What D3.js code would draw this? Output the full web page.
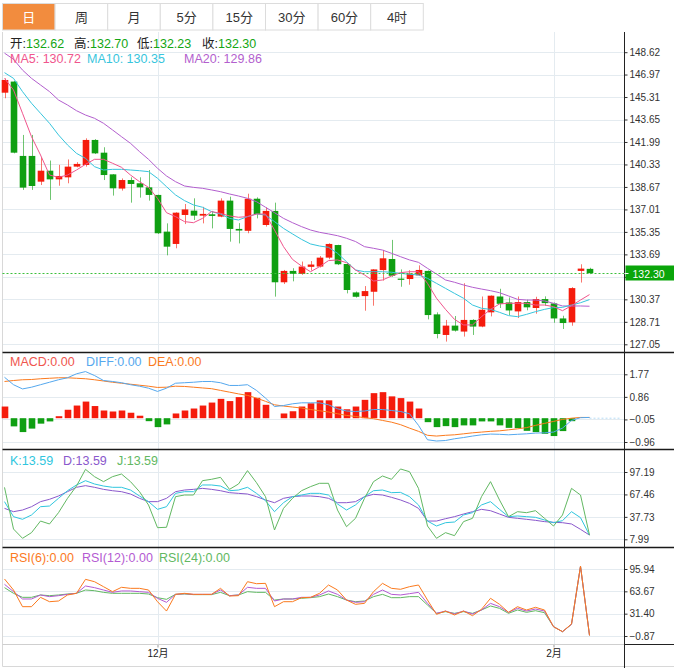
<!DOCTYPE html>
<html>
<head>
<meta charset="utf-8">
<script src="https://cdn.jsdelivr.net/npm/d3@7/dist/d3.min.js"></script>
<style>
    body { margin: 0; background: #fff; }
    svg text { font-family: "Liberation Sans", "Noto Sans CJK SC", sans-serif; }
</style>
</head>
<body>
<svg id="canvas" width="674" height="668"></svg>
<script>
// ---- data ----
const tabs = ["日", "周", "月", "5分", "15分", "30分", "60分", "4时"];

const opens = [145.63, 146.45, 140.96, 140.96, 139.06, 139.87, 139.23, 139.38, 140.17, 140.29,
    142.14, 141.20, 139.60, 138.55, 139.18, 138.94, 138.64, 138.08, 135.37, 134.46,
    136.60, 136.92, 136.55, 136.65, 136.48, 137.66, 135.57, 135.43, 137.80, 135.86,
    136.90, 131.63, 132.47, 132.25, 132.77, 132.79, 133.45, 134.38, 132.98, 130.88,
    130.61, 130.93, 132.53, 133.35, 131.90, 131.87, 132.14, 132.47, 129.26, 127.74,
    128.43, 127.99, 128.85, 128.36, 129.41, 130.58, 130.14, 129.48, 130.17, 129.73,
    130.39, 130.07, 128.96, 128.67, 132.47, 132.62];
const highs = [146.69, 146.50, 142.51, 142.51, 140.86, 140.62, 140.30, 140.70, 140.50, 142.26,
    142.20, 141.60, 139.62, 139.30, 139.38, 139.38, 139.92, 138.10, 135.98, 136.80,
    137.41, 137.83, 137.20, 136.90, 137.83, 137.95, 136.00, 138.17, 137.90, 137.17,
    137.51, 132.54, 132.67, 133.16, 133.20, 133.57, 134.51, 134.40, 133.00, 130.95,
    131.35, 132.60, 134.02, 134.76, 132.58, 132.52, 132.88, 132.50, 129.41, 128.85,
    129.14, 131.56, 128.90, 130.58, 130.66, 131.15, 130.51, 130.58, 130.34, 130.56,
    130.59, 130.14, 129.16, 131.27, 132.96, 132.70];
const lows = [145.22, 141.15, 138.45, 138.45, 138.81, 137.71, 138.76, 138.94, 140.12, 140.17,
    141.10, 139.18, 138.03, 138.40, 137.51, 137.88, 137.66, 135.20, 133.62, 134.14,
    135.93, 136.23, 135.98, 135.61, 136.43, 134.63, 134.50, 135.25, 136.35, 135.74,
    130.57, 131.50, 131.70, 132.18, 132.50, 132.72, 133.33, 132.90, 130.81, 130.50,
    129.53, 129.90, 131.75, 132.03, 131.30, 131.45, 132.09, 128.89, 127.49, 127.25,
    127.99, 127.62, 127.74, 128.31, 129.11, 129.73, 129.21, 128.99, 129.56, 129.31,
    129.90, 128.64, 128.18, 128.42, 131.61, 132.23];
const closes = [146.57, 141.20, 138.62, 138.74, 139.87, 139.23, 139.48, 140.17, 140.37, 142.14,
    141.15, 139.55, 138.57, 139.18, 138.89, 138.64, 138.08, 135.25, 134.26, 136.77,
    137.01, 136.55, 136.68, 136.53, 137.66, 135.57, 135.45, 137.80, 136.67, 136.90,
    131.63, 132.47, 132.25, 132.79, 132.94, 133.45, 134.46, 132.96, 131.06, 130.56,
    130.98, 132.58, 133.40, 132.11, 131.82, 132.27, 132.54, 129.21, 127.81, 128.43,
    128.06, 128.85, 128.36, 129.60, 130.64, 130.04, 129.55, 130.17, 129.78, 130.39,
    130.09, 128.96, 128.62, 131.20, 132.64, 132.30];

const ma5 = [146.69, 145.83, 144.11, 142.38, 141.03, 139.55, 139.38, 139.55, 139.92, 140.34,
    140.71, 140.71, 140.42, 140.12, 139.55, 139.06, 138.64, 137.83, 136.77, 136.48,
    136.11, 136.03, 136.35, 136.85, 136.72, 136.53, 136.43, 136.48, 136.67, 136.67,
    135.49, 134.26, 133.32, 132.83, 132.41, 132.78, 133.23, 133.28, 133.08, 132.54,
    132.17, 131.72, 131.80, 132.09, 132.34, 132.41, 132.41, 131.55, 130.45, 129.63,
    128.89, 128.48, 128.48, 129.09, 129.63, 130.03, 130.08, 130.08, 130.08, 129.95,
    129.95, 129.83, 129.53, 129.90, 130.32, 130.72];
const ma10 = [147.11, 146.69, 145.71, 144.85, 144.11, 143.37, 142.51, 141.77, 141.15, 140.78,
    140.17, 139.92, 139.97, 139.97, 139.92, 139.87, 139.80, 139.31, 138.69, 138.08,
    137.66, 137.34, 137.17, 136.85, 136.67, 136.35, 136.23, 136.48, 136.67, 136.60,
    136.11, 135.61, 135.20, 134.80, 134.46, 134.31, 134.21, 133.77, 133.15, 132.54,
    132.41, 132.41, 132.41, 132.37, 132.29, 132.22, 132.17, 131.92, 131.55, 131.18,
    130.81, 130.45, 129.95, 129.71, 129.63, 129.41, 129.17, 129.09, 129.26, 129.46,
    129.63, 129.76, 129.78, 129.95, 130.12, 130.35];
const ma20 = [148.55, 148.10, 147.30, 146.69, 146.20, 145.71, 145.09, 144.72, 144.30, 143.98,
    143.74, 143.37, 142.88, 142.38, 141.89, 141.28, 140.71, 140.05, 139.48, 139.06,
    138.74, 138.64, 138.57, 138.45, 138.32, 138.15, 138.00, 137.83, 137.58, 137.17,
    136.77, 136.35, 136.03, 135.74, 135.49, 135.32, 135.20, 135.07, 134.88, 134.64,
    134.26, 134.14, 134.01, 133.77, 133.52, 133.28, 133.10, 132.66, 132.24, 131.80,
    131.63, 131.43, 131.26, 131.13, 131.01, 130.86, 130.62, 130.37, 130.32, 130.32,
    130.25, 130.08, 129.88, 129.88, 129.88, 129.86];

const macdBars = [0.47, -0.33, -0.56, -0.42, -0.22, -0.13, 0.08, 0.34, 0.51, 0.67,
    0.49, 0.31, 0.27, 0.31, 0.22, 0.10, -0.12, -0.36, -0.25, 0.19,
    0.31, 0.39, 0.51, 0.63, 0.78, 0.69, 0.85, 1.05, 0.82, 0.54,
    0.00, 0.19, 0.28, 0.47, 0.60, 0.72, 0.72, 0.47, 0.36, 0.47,
    0.74, 1.01, 1.05, 0.88, 0.81, 0.67, 0.39, -0.16, -0.36, -0.32,
    -0.36, -0.29, -0.29, -0.13, -0.13, -0.29, -0.39, -0.40, -0.51, -0.56,
    -0.63, -0.72, -0.52, -0.12, 0.00, 0.00];
const diff = [1.65, 1.35, 1.18, 1.25, 1.35, 1.45, 1.55, 1.63, 1.79, 1.88,
    1.72, 1.52, 1.48, 1.43, 1.35, 1.29, 1.21, 1.08, 1.21, 1.41,
    1.43, 1.45, 1.48, 1.48, 1.43, 1.32, 1.32, 1.35, 1.12, 0.81,
    0.47, 0.51, 0.58, 0.62, 0.62, 0.62, 0.54, 0.38, 0.29, 0.27,
    0.29, 0.35, 0.35, 0.31, 0.27, 0.18, -0.29, -0.87, -0.92, -0.90,
    -0.83, -0.78, -0.72, -0.67, -0.64, -0.65, -0.67, -0.65, -0.63, -0.60,
    -0.59, -0.56, -0.40, -0.09, 0.02, 0.03];
const dea = [1.48, 1.52, 1.55, 1.56, 1.59, 1.61, 1.63, 1.63, 1.61, 1.59,
    1.55, 1.50, 1.45, 1.41, 1.37, 1.33, 1.29, 1.24, 1.25, 1.29,
    1.28, 1.25, 1.22, 1.19, 1.12, 1.05, 0.98, 0.92, 0.81, 0.68,
    0.54, 0.49, 0.45, 0.41, 0.35, 0.30, 0.25, 0.18, 0.11, 0.07,
    0.02, -0.02, -0.09, -0.16, -0.26, -0.40, -0.53, -0.69, -0.72, -0.69,
    -0.67, -0.63, -0.59, -0.56, -0.53, -0.51, -0.47, -0.43, -0.38, -0.29,
    -0.21, -0.13, -0.05, 0.00, 0.03, 0.03];

const kVals = [57.9, 38.0, 34.5, 40.2, 51.2, 52.1, 62.3, 72.4, 80.0, 85.7,
    81.3, 78.6, 76.9, 76.9, 73.3, 65.4, 57.9, 47.7, 51.2, 68.9,
    71.1, 71.1, 80.0, 80.0, 78.6, 72.4, 73.3, 76.9, 68.9, 59.2,
    44.6, 56.5, 64.5, 66.7, 68.9, 68.9, 66.7, 54.8, 46.8, 53.5,
    64.5, 72.4, 73.3, 69.8, 70.2, 64.5, 53.5, 32.2, 25.6, 30.0,
    30.9, 40.2, 43.3, 53.5, 57.9, 47.7, 38.0, 38.9, 38.0, 37.1,
    33.6, 30.0, 32.7, 44.6, 36.7, 13.59];
const dVals = [49.0, 44.6, 46.8, 51.2, 57.9, 61.0, 65.4, 71.1, 76.9, 79.1,
    76.9, 74.2, 72.4, 71.1, 68.0, 62.3, 57.9, 57.9, 62.3, 71.1,
    73.3, 74.2, 75.5, 74.2, 72.4, 69.8, 68.9, 68.0, 64.5, 60.1,
    56.5, 62.3, 64.5, 65.4, 65.4, 64.5, 62.3, 56.5, 56.5, 57.9,
    64.5, 67.6, 66.7, 63.6, 60.1, 55.6, 49.0, 32.2, 32.2, 35.3,
    38.0, 41.5, 44.6, 47.7, 45.9, 41.5, 37.1, 35.8, 34.5, 33.1,
    31.4, 30.5, 30.0, 28.3, 21.2, 13.59];
const jVals = [76.8, 21.6, 9.3, 16.8, 32.2, 28.3, 43.3, 62.3, 78.6, 100.7,
    91.0, 84.4, 91.0, 94.5, 84.4, 71.1, 53.5, 23.4, 23.9, 64.5,
    66.7, 66.7, 85.7, 87.5, 90.1, 74.2, 81.3, 99.0, 83.0, 64.5,
    20.3, 49.0, 62.3, 72.4, 77.8, 82.2, 82.2, 46.8, 24.7, 35.8,
    62.3, 84.4, 91.9, 87.5, 101.2, 97.6, 75.5, 25.6, 9.3, 16.8,
    12.8, 31.4, 35.8, 64.5, 84.4, 60.1, 38.0, 44.6, 43.3, 45.9,
    35.8, 25.6, 40.2, 75.5, 66.7, 13.59];

const rsi6 = [81.5, 65.6, 41.5, 41.5, 55.0, 48.7, 49.7, 58.4, 60.8, 81.0,
    77.6, 70.4, 63.2, 69.5, 68.0, 68.0, 65.6, 48.7, 35.2, 59.3,
    60.8, 59.3, 59.3, 59.3, 68.0, 56.9, 57.4, 77.6, 74.7, 75.2,
    41.5, 48.7, 48.7, 54.5, 55.0, 60.8, 72.8, 65.6, 51.1, 44.9,
    46.3, 63.2, 75.2, 68.0, 66.6, 70.4, 72.8, 51.1, 30.4, 35.2,
    29.5, 35.2, 28.5, 37.7, 53.6, 44.9, 33.3, 41.5, 36.7, 40.6,
    36.7, 12.6, 5.4, 16.5, 100, 0];
const rsi12 = [73.8, 63.2, 52.6, 52.6, 58.4, 56.0, 57.4, 59.3, 60.8, 71.4,
    69.0, 65.6, 62.2, 64.2, 64.2, 63.2, 62.2, 53.6, 47.8, 59.3,
    60.3, 59.3, 59.3, 59.3, 65.6, 57.4, 58.4, 69.5, 68.0, 68.0,
    49.7, 52.6, 52.6, 55.0, 55.0, 58.4, 64.2, 59.3, 51.1, 47.8,
    48.7, 59.3, 65.6, 59.3, 58.4, 60.3, 62.2, 46.3, 31.9, 35.2,
    30.9, 35.2, 30.9, 36.7, 46.3, 41.5, 33.3, 39.1, 35.2, 38.1,
    35.2, 12.6, 5.4, 16.0, 100, 0];
const rsi24 = [69.0, 60.8, 55.0, 55.0, 58.4, 57.4, 58.4, 59.8, 60.8, 65.6,
    64.6, 62.2, 60.8, 60.8, 60.8, 60.8, 59.8, 54.5, 52.1, 59.3,
    59.8, 58.9, 58.9, 58.9, 62.2, 57.4, 58.4, 63.2, 62.2, 62.2,
    51.1, 52.6, 52.6, 53.6, 54.5, 56.0, 59.8, 56.0, 51.1, 48.7,
    49.7, 56.0, 59.3, 54.5, 54.5, 56.0, 56.0, 43.9, 31.9, 34.3,
    31.9, 34.3, 31.9, 36.7, 42.5, 39.1, 31.9, 36.7, 33.3, 35.7,
    32.8, 12.6, 5.4, 16.0, 100, 0];

const priceTicks = [127.05, 128.71, 130.37, 132.03, 133.69, 135.35, 137.01, 138.67,
    140.33, 141.99, 143.65, 145.31, 146.97, 148.62];
const macdTicks = [1.77, 0.86, -0.05, -0.96];
const kdjTicks = [97.19, 67.46, 37.73, 7.99];
const rsiTicks = [95.94, 63.67, 31.40, -0.87];
const monthTicks = [17, 61];
const monthNames = ["12月", "2月"];
const lastClose = 132.30;

// ---- layout ----
const LEFT = 2.5, AXIS_X = 624.5, RIGHT = 674;
const PANE_TOP = 32, X_AXIS_Y = 644.5, BOTTOM = 666.5;
const SEPARATORS = [352.5, 449.5, 547.5];
const RED = "#f51b0c", GREEN = "#0f9f12";
const GRID = "#e4ebf0";

const svg = d3.select("#canvas");
const x = d3.scaleLinear().domain([0, 65]).range([4.5, 589.5]);
const yPrice = d3.scaleLinear().domain([127.05, 148.62]).range([344.3, 52.2]);
const yMacd = d3.scaleLinear().domain([-0.96, 1.77]).range([442, 374.3]);
const yKdj = d3.scaleLinear().domain([7.99, 97.19]).range([539.3, 472]);
const yRsi = d3.scaleLinear().domain([-0.87, 95.94]).range([636, 569]);

const panes = [
    {scale: yPrice, ticks: priceTicks, hide: [132.03]},
    {scale: yMacd, ticks: macdTicks, hide: []},
    {scale: yKdj, ticks: kdjTicks, hide: []},
    {scale: yRsi, ticks: rsiTicks, hide: []}
];

/**
 * Tab strip across the top.
 */
function drawTabs() {
    const w = 52.6, x0 = 2;
    const g = svg.append("g");
    g.selectAll("rect")
        .data(tabs)
        .enter()
        .append("rect")
        .attr("x", (d, i) => x0 + i * w + 0.5)
        .attr("y", 3.5)
        .attr("width", w)
        .attr("height", 26.5)
        .attr("fill", (d, i) => i === 0 ? "#f28c3e" : "#fff")
        .attr("stroke", "#dcdcdc");
    g.selectAll("text")
        .data(tabs)
        .enter()
        .append("text")
        .attr("x", (d, i) => x0 + i * w + w / 2 + 0.5)
        .attr("y", 21.5)
        .attr("text-anchor", "middle")
        .attr("font-size", "13px")
        .attr("fill", (d, i) => i === 0 ? "#fff" : "#333")
        .text(d => d);
}

/**
 * Grid lines, pane frames and axes.
 */
function drawFrame() {
    panes.forEach(p => {
        svg.append("g").selectAll("line")
            .data(p.ticks)
            .enter()
            .append("line")
            .attr("x1", LEFT).attr("x2", AXIS_X)
            .attr("y1", d => Math.round(p.scale(d)) + 0.5)
            .attr("y2", d => Math.round(p.scale(d)) + 0.5)
            .attr("stroke", GRID);

        const axis = svg.append("g")
            .attr("transform", "translate(" + AXIS_X + ",0)")
            .call(d3.axisRight(p.scale)
                .tickValues(p.ticks)
                .tickSize(3)
                .tickPadding(2)
                .tickFormat(d => p.hide.includes(d) ? "" : d3.format(".2f")(d)));
        axis.select(".domain").remove();
        axis.selectAll("line").attr("stroke", "#333");
        axis.selectAll("text")
            .attr("font-size", "10px")
            .attr("fill", "#333")
            .style("font-family", "'Liberation Sans', sans-serif");
    });

    svg.append("g").selectAll("line")
        .data(monthTicks)
        .enter()
        .append("line")
        .attr("x1", d => Math.round(x(d)) + 0.5).attr("x2", d => Math.round(x(d)) + 0.5)
        .attr("y1", PANE_TOP).attr("y2", X_AXIS_Y)
        .attr("stroke", GRID);

    const xAxis = svg.append("g")
        .attr("transform", "translate(0," + X_AXIS_Y + ")")
        .call(d3.axisBottom(x)
            .tickValues(monthTicks)
            .tickSize(3)
            .tickPadding(2)
            .tickFormat((d, i) => monthNames[i]));
    xAxis.select(".domain").remove();
    xAxis.selectAll("line").attr("stroke", "#999");
    xAxis.selectAll("text").attr("font-size", "10px").attr("fill", "#222");

    // borders
    svg.append("line").attr("x1", LEFT).attr("x2", LEFT).attr("y1", PANE_TOP).attr("y2", BOTTOM)
        .attr("stroke", "#d8d8d8");
    svg.append("line").attr("x1", LEFT).attr("x2", RIGHT).attr("y1", BOTTOM).attr("y2", BOTTOM)
        .attr("stroke", "#d8d8d8");
    svg.append("line").attr("x1", LEFT).attr("x2", AXIS_X).attr("y1", X_AXIS_Y).attr("y2", X_AXIS_Y)
        .attr("stroke", "#cfcfcf");
    svg.append("line").attr("x1", AXIS_X).attr("x2", RIGHT).attr("y1", X_AXIS_Y).attr("y2", X_AXIS_Y)
        .attr("stroke", "#222");
    SEPARATORS.forEach(y => {
        svg.append("line").attr("x1", LEFT).attr("x2", RIGHT).attr("y1", y).attr("y2", y)
            .attr("stroke", "#1a1a1a").attr("stroke-width", 1.3);
    });
    svg.append("line").attr("x1", AXIS_X).attr("x2", AXIS_X).attr("y1", PANE_TOP).attr("y2", 668)
        .attr("stroke", "#222");
}

/**
 * Candlesticks and moving averages.
 */
function drawPrice() {
    const idx = d3.range(closes.length);
    const color = i => closes[i] >= opens[i] ? RED : GREEN;
    const bw = 6.6;

    svg.append("g").selectAll("line")
        .data(idx)
        .enter()
        .append("line")
        .attr("x1", i => Math.round(x(i)) + 0.5)
        .attr("x2", i => Math.round(x(i)) + 0.5)
        .attr("y1", i => yPrice(highs[i]))
        .attr("y2", i => yPrice(lows[i]))
        .attr("stroke", color)
        .attr("stroke-opacity", 0.6);

    svg.append("g").selectAll("rect")
        .data(idx)
        .enter()
        .append("rect")
        .attr("x", i => x(i) - bw / 2 + 0.5)
        .attr("width", bw)
        .attr("y", i => yPrice(Math.max(opens[i], closes[i])))
        .attr("height", i => Math.max(1.2, Math.abs(yPrice(opens[i]) - yPrice(closes[i]))))
        .attr("fill", color);

    const line = d3.line().x((d, i) => x(i)).y(d => yPrice(d));
    [[ma20, "#b35fce"], [ma10, "#37c5dd"], [ma5, "#f0558d"]].forEach(([s, c]) => {
        svg.append("path").datum(s).attr("d", line)
            .attr("fill", "none").attr("stroke", c).attr("stroke-width", 1);
    });

    // last price marker
    const yl = Math.round(yPrice(lastClose)) + 0.5;
    svg.append("line").attr("x1", LEFT).attr("x2", AXIS_X).attr("y1", yl).attr("y2", yl)
        .attr("stroke", "#3cc03c").attr("stroke-dasharray", "2,2");
    svg.append("rect").attr("x", AXIS_X + 1).attr("y", yl - 8).attr("width", RIGHT - AXIS_X)
        .attr("height", 15).attr("fill", "#0aa50a");
    svg.append("line").attr("x1", AXIS_X).attr("x2", AXIS_X + 4).attr("y1", yl).attr("y2", yl)
        .attr("stroke", "#fff");
    svg.append("text").attr("x", AXIS_X + 8).attr("y", yl + 4)
        .attr("font-size", "10.5px").attr("fill", "#fff").text(lastClose.toFixed(2));
}

/**
 * MACD histogram with DIFF / DEA.
 */
function drawMacd() {
    const bw = 6.6;
    const y0 = yMacd(0);
    svg.append("g").selectAll("rect")
        .data(macdBars)
        .enter()
        .append("rect")
        .attr("x", (d, i) => x(i) - bw / 2 + 0.5)
        .attr("width", bw)
        .attr("y", d => Math.min(y0, yMacd(d)))
        .attr("height", d => Math.abs(yMacd(d) - y0))
        .attr("fill", d => d >= 0 ? RED : GREEN);

    svg.append("line").attr("x1", x(65)).attr("x2", 620).attr("y1", y0).attr("y2", y0)
        .attr("stroke", "#b7dcf5").attr("stroke-dasharray", "2,2");

    const line = d3.line().x((d, i) => x(i)).y(d => yMacd(d));
    svg.append("path").datum(dea).attr("d", line)
        .attr("fill", "none").attr("stroke", "#fb7a1e");
    svg.append("path").datum(diff).attr("d", line)
        .attr("fill", "none").attr("stroke", "#55a8ee");
}

/**
 * Generic multi-line indicator pane.
 */
function drawLines(series, scale) {
    const line = d3.line().x((d, i) => x(i)).y(d => scale(d));
    series.forEach(([s, c]) => {
        svg.append("path").datum(s).attr("d", line)
            .attr("fill", "none").attr("stroke", c).attr("stroke-width", 1);
    });
}

/**
 * Legend rows.
 */
function drawLegend(y, items, size) {
    const t = svg.append("text").attr("x", 10).attr("y", y).attr("font-size", size);
    items.forEach(([s, c, dx]) => {
        const ts = t.append("tspan").attr("fill", c).text(s);
        if (dx !== undefined) ts.attr("x", dx);
    });
}

drawTabs();
drawFrame();
drawPrice();
drawMacd();
drawLines([[dVals, "#8a58cc"], [kVals, "#2fc6de"], [jVals, "#62b862"]], yKdj);
drawLines([[rsi24, "#62b862"], [rsi12, "#b45ad2"], [rsi6, "#fb7a1e"]], yRsi);

drawLegend(48, [["开:", "#222"], ["132.62", "#13a613"], ["高:", "#222", 74], ["132.70", "#13a613"],
    ["低:", "#222", 137], ["132.23", "#13a613"], ["收:", "#222", 202], ["132.30", "#13a613"]], "12.5px");
drawLegend(63, [["MA5: 130.72", "#f0558d"], ["MA10: 130.35", "#37c5dd", 87],
    ["MA20: 129.86", "#b35fce", 184]], "12.5px");
drawLegend(366, [["MACD:0.00", "#f0554e"], ["DIFF:0.00", "#55a8ee", 86], ["DEA:0.00", "#fb7a1e", 148]], "12.5px");
drawLegend(465, [["K:13.59", "#2fc6de"], ["D:13.59", "#8a58cc", 63], ["J:13.59", "#62b862", 117]], "12.5px");
drawLegend(562, [["RSI(6):0.00", "#fb7a1e"], ["RSI(12):0.00", "#b45ad2", 82],
    ["RSI(24):0.00", "#62b862", 159]], "12.5px");
</script>
</body>
</html>
